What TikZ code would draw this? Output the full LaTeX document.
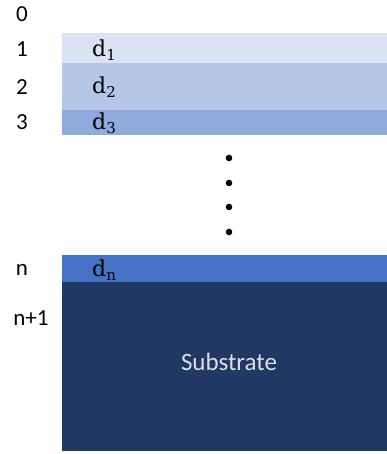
\documentclass[tikz,border=0pt]{standalone}
\usepackage{fontspec}
\newfontfamily\calibri{Carlito}
\newfontfamily\cambria{DejaVu Serif}
\definecolor{layerA}{HTML}{DAE3F3}
\definecolor{layerB}{HTML}{B4C7E7}
\definecolor{layerC}{HTML}{8FAADC}
\definecolor{layerN}{HTML}{4472C4}
\definecolor{substr}{HTML}{203864}
% thickness label: upright d with a lowered index
\newcommand{\dthk}[1]{d\raisebox{-4pt}{\fontsize{15}{17}\selectfont #1}}
\tikzset{
    idx/.style={font=\calibri\fontsize{23}{27}\selectfont, inner sep=0pt, anchor=center},
    thk/.style={font=\cambria\fontsize{22}{26}\selectfont, inner sep=0pt, anchor=base west}
}
\begin{document}
\begin{tikzpicture}[x=1pt,y=-1pt]
            \useasboundingbox (0,0) rectangle (387,454);

            % Layer stack
            \foreach \top/\bot/\col in {33/63/layerA, 63/110/layerB, 110/135/layerC, 255/282/layerN, 282/451/substr} {
                \fill [\col] (62,\top) rectangle (387,\bot);
            }

            % Interface indices on the left
            \foreach \y/\lab/\name in {14/0/i0, 49/1/i1, 87/2/i2, 122/3/i3, 270/n/in} {
                \node [idx] (\name) at (22,\y) {\lab};
            }
            \node [idx] (inp) at (31,318) {n+1};

            % Thickness labels
            \foreach \y/\sub in {57/1, 94/2, 130/3, 276/n} {
                \node [thk] (d\sub) at (92,\y) {\dthk{\sub}};
            }

            % Dots for the skipped layers
            \foreach \y in {158, 183, 207, 232} {
                \fill (229,\y) circle (3.3);
            }

            \node [idx, font=\calibri\fontsize{25}{29}\selectfont, text=white!87!black] (sub) at (229,362) {Substrate};

\end{tikzpicture}
\end{document}
